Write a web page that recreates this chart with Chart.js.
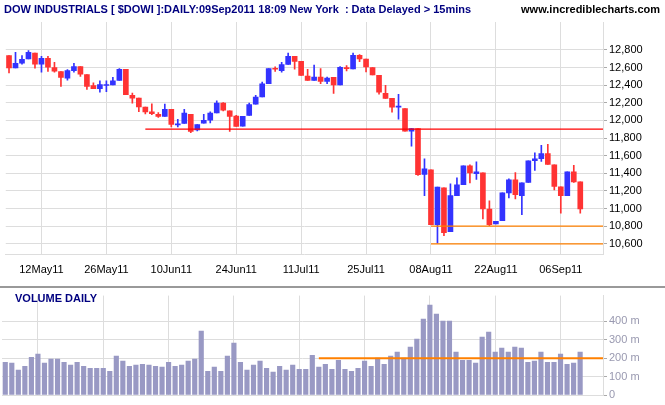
<!DOCTYPE html>
<html><head><meta charset="utf-8">
<script src="https://cdn.jsdelivr.net/npm/chart.js@4.4.0/dist/chart.umd.min.js"></script>
<style>
body{margin:0;background:#fff;width:665px;height:405px;overflow:hidden;font-family:Arial,"Liberation Sans",sans-serif}
#p{position:absolute;left:0;top:0;width:665px;height:286px}
#v{position:absolute;left:0;top:287px;width:665px;height:118px}
#sep{position:absolute;left:0;top:286px;width:665px;height:2px;background:#999}
</style></head><body>
<div id="p"><canvas id="pc"></canvas></div>
<div id="sep"></div>
<div id="v"><canvas id="vc"></canvas></div>
<script>
const dates=["05May11","06May11","09May11","10May11","11May11","12May11","13May11","16May11","17May11","18May11","19May11","20May11","23May11","24May11","25May11","26May11","27May11","31May11",
"01Jun11","02Jun11","03Jun11","06Jun11","07Jun11","08Jun11","09Jun11","10Jun11","13Jun11","14Jun11","15Jun11","16Jun11","17Jun11","20Jun11","21Jun11","22Jun11","23Jun11","24Jun11","27Jun11","28Jun11","29Jun11","30Jun11",
"01Jul11","05Jul11","06Jul11","07Jul11","08Jul11","11Jul11","12Jul11","13Jul11","14Jul11","15Jul11","18Jul11","19Jul11","20Jul11","21Jul11","22Jul11","25Jul11","26Jul11","27Jul11","28Jul11","29Jul11",
"01Aug11","02Aug11","03Aug11","04Aug11","05Aug11","08Aug11","09Aug11","10Aug11","11Aug11","12Aug11","15Aug11","16Aug11","17Aug11","18Aug11","19Aug11","22Aug11","23Aug11","24Aug11","25Aug11","26Aug11","29Aug11","30Aug11","31Aug11",
"01Sep11","02Sep11","06Sep11","07Sep11","08Sep11","09Sep11"];
const tickDates=["12May11","26May11","10Jun11","24Jun11","11Jul11","25Jul11","08Aug11","22Aug11","06Sep11"];
const openV=[12735,12596,12650,12696,12762,12638,12704,12600,12554,12480,12565,12611,12519,12396,12361,12396,12403,12453,12580,12284,12253,12150,12096,12069,12046,12126,11949,11965,12069,11891,11969,12003,12084,12196,12107,12050,11934,12057,12184,12265,12415,12584,12565,12634,12727,12669,12503,12453,12492,12442,12488,12401,12591,12583,12739,12694,12599,12511,12306,12249,12150,12135,11877,11907,11386,11440,10816,11234,10737,11147,11272,11485,11394,11405,10995,10824,10862,11177,11325,11147,11295,11542,11565,11622,11497,11246,11147,11417,11303];
const closeV=[12596,12646,12692,12773,12638,12704,12604,12557,12488,12565,12611,12523,12384,12361,12407,12403,12450,12580,12292,12253,12153,12096,12076,12046,12126,11953,11953,12084,11876,11953,12000,12084,12196,12115,12046,11930,12046,12180,12265,12415,12588,12580,12634,12727,12669,12511,12453,12492,12442,12480,12401,12602,12587,12739,12697,12606,12515,12321,12249,12150,12150,11877,11907,11383,11451,10816,11242,10725,11147,11269,11485,11405,11417,10995,10816,10854,11177,11325,11158,11291,11542,11565,11622,11500,11250,11147,11417,11303,10995];
const highV=[12735,12773,12735,12792,12762,12727,12727,12658,12554,12577,12646,12611,12519,12427,12450,12450,12488,12588,12580,12311,12253,12150,12188,12088,12184,12126,12011,12126,12069,11953,12069,12096,12223,12203,12107,12057,12046,12196,12284,12434,12588,12608,12658,12762,12727,12669,12580,12627,12588,12492,12488,12610,12621,12762,12747,12694,12599,12511,12397,12249,12295,12135,11907,11907,11565,11440,11242,11234,11280,11348,11485,11497,11531,11405,11086,10854,11177,11337,11409,11291,11542,11633,11717,11728,11497,11246,11417,11489,11303];
const lowV=[12538,12596,12638,12696,12592,12546,12554,12546,12384,12457,12546,12500,12350,12361,12320,12327,12403,12453,12292,12196,12100,12073,12065,12034,12046,11926,11926,11965,11861,11880,11969,11972,12084,12107,11876,11930,11934,12057,12184,12265,12415,12554,12546,12634,12580,12511,12453,12453,12415,12415,12306,12401,12560,12583,12667,12549,12515,12298,12249,12093,12013,11877,11706,11375,11147,10816,10607,10691,10737,11147,11272,11291,11329,10881,10805,10824,10862,11120,11109,10930,11295,11432,11535,11500,11212,10946,11147,11295,10946];
const volumeM=[178,173,135,156,205,222,173,195,195,178,162,178,156,145,145,145,129,211,184,156,162,167,162,156,151,178,156,162,184,195,347,129,151,129,211,282,178,135,162,184,145,124,156,135,162,140,140,216,151,167,140,189,140,129,145,184,156,200,167,211,233,200,260,304,413,489,440,402,402,233,189,189,173,315,342,233,255,233,260,255,178,184,233,178,178,222,167,173,233];
const supportLevel=[11900];
const lowLevels=[10800,10600];
const volLevel=[200];
const priceTicks=[10600,10800,11000,11200,11400,11600,11800,12000,12200,12400,12600,12800];
const volTicks=[0,100,200,300,400];

const RED='#ff3333',BLUE='#3333ff';
const col=openV.map((o,i)=>closeV[i]<o?RED:BLUE);
const labelsPadded=dates.concat(['','','']);
const isTick=l=>tickDates.includes(l);
const xGrid={color:c=>isTick(labelsPadded[c.index])?'#dddddd':'rgba(0,0,0,0)',lineWidth:1,drawTicks:false,offset:false};

const linesPlugin={id:'lines',afterDraw(ch){
  const {ctx,chartArea:a,scales:{x,y}}=ch;ctx.save();
  if(ch.canvas.id==='pc'){
    ctx.lineWidth=1.3;ctx.strokeStyle='rgb(255,0,0)';
    supportLevel.forEach(v=>{const py=y.getPixelForValue(v);ctx.beginPath();ctx.moveTo(x.getPixelForValue(21),py);ctx.lineTo(a.right,py);ctx.stroke();});
    ctx.strokeStyle='rgb(255,128,0)';
    lowLevels.forEach(v=>{const py=y.getPixelForValue(v);ctx.beginPath();ctx.moveTo(x.getPixelForValue(65),py);ctx.lineTo(a.right,py);ctx.stroke();});
    ctx.font='bold 11px Arial';ctx.fillStyle='#000080';ctx.textBaseline='top';
    ctx.fillText('DOW INDUSTRIALS [ $DOWI ]:DAILY:09Sep2011 18:09 New York  : Data Delayed > 15mins',4,4);
    ctx.fillStyle='#000';ctx.textAlign='right';ctx.fillText('www.incrediblecharts.com',660,4);
  }else{
    ctx.strokeStyle='rgb(255,128,0)';ctx.lineWidth=2;
    volLevel.forEach(v=>{const py=y.getPixelForValue(v);ctx.beginPath();ctx.moveTo(x.getPixelForValue(48),py);ctx.lineTo(a.right,py);ctx.stroke();});
    ctx.font='bold 11px Arial';ctx.fillStyle='#000080';ctx.textBaseline='top';ctx.fillText('VOLUME DAILY',15,6);
  }
  ctx.restore();}};

new Chart(document.getElementById('pc'),{type:'bar',
 data:{labels:labelsPadded,datasets:[
  {data:dates.map((d,i)=>[lowV[i],highV[i]]),backgroundColor:col,barThickness:1,grouped:false,order:2},
  {data:dates.map((d,i)=>[openV[i],closeV[i]===openV[i]?openV[i]+4:closeV[i]]),backgroundColor:col,barThickness:5,grouped:false,order:1,minBarLength:1}]},
 options:{responsive:true,maintainAspectRatio:false,animation:false,
  layout:{padding:{top:22,left:2,right:0,bottom:0}},
  plugins:{legend:{display:false},tooltip:{enabled:false}},
  scales:{
   x:{offset:true,grid:xGrid,border:{display:true,color:'#dddddd'},
      ticks:{autoSkip:false,maxRotation:0,color:'#000',font:{size:11,family:'Arial'},padding:9,callback:(v,i)=>isTick(labelsPadded[i])?labelsPadded[i]:''}},
   y:{position:'right',min:10475,max:13116,afterBuildTicks:s=>{s.ticks=priceTicks.map(v=>({value:v}));},
      afterFit:s=>{s.width=62;},
      grid:{color:'#dddddd',drawTicks:true,tickLength:4,tickColor:'#aaaaaa'},border:{color:'#dddddd'},
      ticks:{color:'#000',font:{size:11,family:'Arial'},padding:2,callback:v=>v.toLocaleString('en-US')}}}},
 plugins:[linesPlugin]});

new Chart(document.getElementById('vc'),{type:'bar',
 data:{labels:labelsPadded,datasets:[{data:volumeM,backgroundColor:'#9999c4',barThickness:4.5}]},
 options:{responsive:true,maintainAspectRatio:false,animation:false,
  layout:{padding:{top:2,left:2,right:0,bottom:10}},
  plugins:{legend:{display:false},tooltip:{enabled:false}},
  scales:{
   x:{offset:true,grid:xGrid,border:{display:true,color:'#dddddd'},ticks:{display:false}},
   y:{position:'right',min:0,max:540,afterBuildTicks:s=>{s.ticks=volTicks.map(v=>({value:v}));},
      afterFit:s=>{s.width=62;},
      grid:{color:'#dddddd',tickLength:4,tickColor:'#aaaaaa'},border:{color:'#dddddd'},
      ticks:{color:'#9999b0',font:{size:11,family:'Arial'},padding:2,callback:v=>v===0?'0':v+' m'}}}},
 plugins:[linesPlugin]});
</script></body></html>
